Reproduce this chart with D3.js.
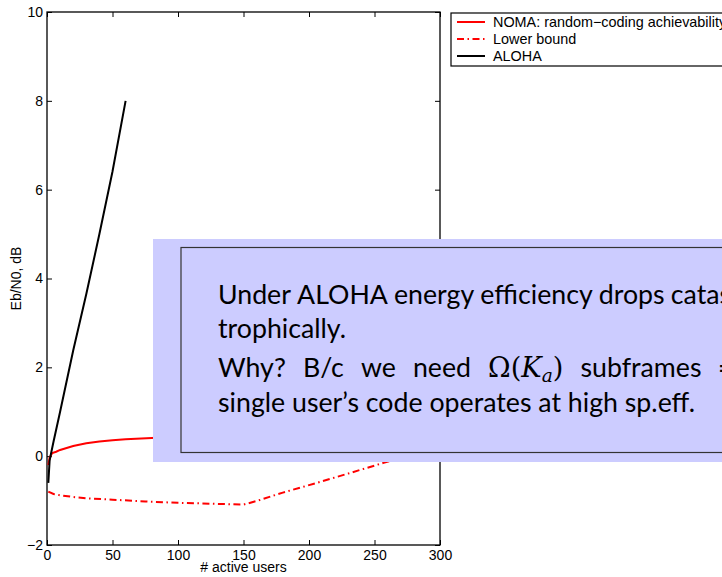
<!DOCTYPE html>
<html>
<head lang="en">
    <meta charset="UTF-8">
    <title></title>
    <script src="https://cdn.jsdelivr.net/npm/d3@7/dist/d3.min.js"></script>
    <style>
        body{margin:0;background:#fff;}
        svg{display:block;}
        .tick text{font-family:"Liberation Sans",Arial,sans-serif;font-size:14px;fill:#000;}
        .tick line{stroke:#000;stroke-width:1;}
        .lbl{font-family:"Liberation Sans",Arial,sans-serif;font-size:14px;fill:#000;}
        .note{font-family:Lato,"Open Sans",sans-serif;fill:#000;}
        .math{font-family:"DejaVu Serif","Liberation Serif",serif;fill:#000;}
    </style>
</head>
<body>
<script>
    // number of active users and Eb/N0 (dB)
    var nomaK=[1,2,4,7,10,20,30,40,50,60,80,100,150,200,250,300];
    var nomaEb=[-0.2,-0.03,0.07,0.1,0.14,0.23,0.29,0.33,0.36,0.38,0.41,0.45,0.55,0.7,0.9,1.1];

    var lowerK=[1,5,10,20,30,50,75,100,125,150,160,180,205,230,257,280,300];
    var lowerEb=[-0.8,-0.85,-0.88,-0.92,-0.95,-0.98,-1.02,-1.05,-1.07,-1.09,-1.01,-0.82,-0.61,-0.39,-0.15,0.03,0.2];

    var alohaK=[1,2,3,5,10,20,30,40,50,60];
    var alohaEb=[-0.6,-0.1,0.05,0.33,1.0,2.38,3.65,5.0,6.41,8.0];

    var xTicks=[0,50,100,150,200,250,300];
    var yTicks=[-2,0,2,4,6,8,10];
    var legendNames=["NOMA: random\u2212coding achievability","Lower bound","ALOHA"];

    var _svg=d3.select("body").append("svg")
            .attr("width",722)
            .attr("height",577);

    var _x=d3.scaleLinear().domain([0,300]).range([47,440]);
    var _y=d3.scaleLinear().domain([-2,10]).range([545,12]);

    //坐标轴 (ticks pointing inward, like matlab)
    _svg.append("g").attr("transform","translate(0,545)")
            .call(d3.axisBottom(_x).tickValues(xTicks).tickSize(-5).tickPadding(5))
            .call(function(g){g.select(".domain").remove();});
    _svg.append("g").attr("transform","translate(0,12)")
            .call(d3.axisTop(_x).tickValues(xTicks).tickSize(-5).tickFormat(""))
            .call(function(g){g.select(".domain").remove();});
    _svg.append("g").attr("transform","translate(47,0)")
            .call(d3.axisLeft(_y).tickValues(yTicks).tickSize(-5).tickPadding(4))
            .call(function(g){g.select(".domain").remove();});
    _svg.append("g").attr("transform","translate(440,0)")
            .call(d3.axisRight(_y).tickValues(yTicks).tickSize(-5).tickFormat(""))
            .call(function(g){g.select(".domain").remove();});
    _svg.selectAll("g").attr("font-family",null).attr("font-size",null);

    _svg.append("rect")
            .attr("x",_x(0)).attr("y",_y(10))
            .attr("width",_x(300)-_x(0)).attr("height",_y(-2)-_y(10))
            .style("fill","none").style("stroke","#000").style("stroke-width",1.3);

    _svg.append("text").attr("class","lbl")
            .attr("x",_x(150)).attr("y",572)
            .attr("text-anchor","middle")
            .text("# active users");
    _svg.append("text").attr("class","lbl")
            .attr("transform","translate(21,"+_y(4)+") rotate(-90)")
            .attr("text-anchor","middle")
            .text("Eb/N0, dB");

    //曲线
    function makeLine(ks,vals){
        return d3.line()
                .x(function(d){return _x(d);})
                .y(function(d,i){return _y(vals[i]);})(ks);
    }
    _svg.append("path").attr("d",makeLine(lowerK,lowerEb))
            .style("fill","none").style("stroke","#ff0000").style("stroke-width",2)
            .style("stroke-dasharray","7,3.5,1.5,3.5");
    _svg.append("path").attr("d",makeLine(nomaK,nomaEb))
            .style("fill","none").style("stroke","#ff0000").style("stroke-width",2);
    _svg.append("path").attr("d",makeLine(alohaK,alohaEb))
            .style("fill","none").style("stroke","#000").style("stroke-width",2);

    //图例
    var _legend=_svg.append("g");
    _legend.append("rect")
            .attr("x",451).attr("y",13).attr("width",300).attr("height",53)
            .style("fill","#fff").style("stroke","#000").style("stroke-width",1.2);
    var _styles=[{c:"#ff0000",dash:null},{c:"#ff0000",dash:"7,3.5,1.5,3.5"},{c:"#000",dash:null}];
    legendNames.forEach(function(name,i){
        var cy=22+i*17;
        _legend.append("line")
                .attr("x1",457).attr("x2",485).attr("y1",cy).attr("y2",cy)
                .style("stroke",_styles[i].c).style("stroke-width",2)
                .style("stroke-dasharray",_styles[i].dash);
        _legend.append("text").attr("class","lbl")
                .attr("x",493).attr("y",cy).attr("dy","0.35em")
                .style("font-size","14.4px")
                .text(name);
    });

    //覆盖的说明框
    _svg.append("rect")
            .attr("x",153).attr("y",239).attr("width",600).attr("height",223)
            .style("fill","#ccccff");
    _svg.append("rect")
            .attr("x",181).attr("y",247.5).attr("width",600).attr("height",205)
            .style("fill","#ccccff").style("stroke","#333").style("stroke-width",1.2);

    var _left=218,_right=741;
    // font size: last line ~497px wide, and first line must fit inside the box
    function widthAt(fs,txt){
        var p=_svg.append("text").attr("class","note").style("font-size",fs+"px").text(txt);
        var w=p.node().getComputedTextLength();
        p.remove();
        return w;
    }
    var _fs=Math.min(26*497/widthAt(26,"single user\u2019s code operates at high sp.eff."),
            26*(_right-_left)/widthAt(26,"Under ALOHA energy efficiency drops catas-  "));

    function noteWord(y,txt){
        return _svg.append("text").attr("class","note").style("font-size",_fs+"px")
                .attr("y",y).text(txt);
    }
    function mathOmega(y){
        var m=_svg.append("text").attr("class","math").style("font-size",(_fs*1.02)+"px")
                .attr("y",y);
        m.append("tspan").text("\u03a9(");
        m.append("tspan").style("font-style","italic").text("K");
        m.append("tspan").style("font-style","italic").style("font-size",(_fs*0.7)+"px")
                .attr("dy",5).text("a");
        m.append("tspan").attr("dy",-5).text(")");
        return m;
    }
    // justified line: spread the words between x0 and x1
    function justify(items,x0,x1){
        var total=0;
        items.forEach(function(t){total+=t.node().getComputedTextLength();});
        var gap=(x1-x0-total)/(items.length-1);
        var x=x0;
        items.forEach(function(t){
            t.attr("x",x);
            x+=t.node().getComputedTextLength()+gap;
        });
    }
    justify(["Under","ALOHA","energy","efficiency","drops","catas-"].map(function(w){return noteWord(304,w);}),_left,_right);
    noteWord(338,"trophically.").attr("x",_left);
    var _l3=["Why?","B/c","we","need"].map(function(w){return noteWord(376.5,w);});
    _l3.push(mathOmega(376.5));
    _l3.push(noteWord(376.5,"subframes"));
    _l3.push(_svg.append("text").attr("class","math").style("font-size",_fs+"px").attr("y",376.5).text("\u21d2"));
    justify(_l3,_left,_right);
    noteWord(411.5,"single user\u2019s code operates at high sp.eff.").attr("x",_left);
</script>
</body>
</html>
